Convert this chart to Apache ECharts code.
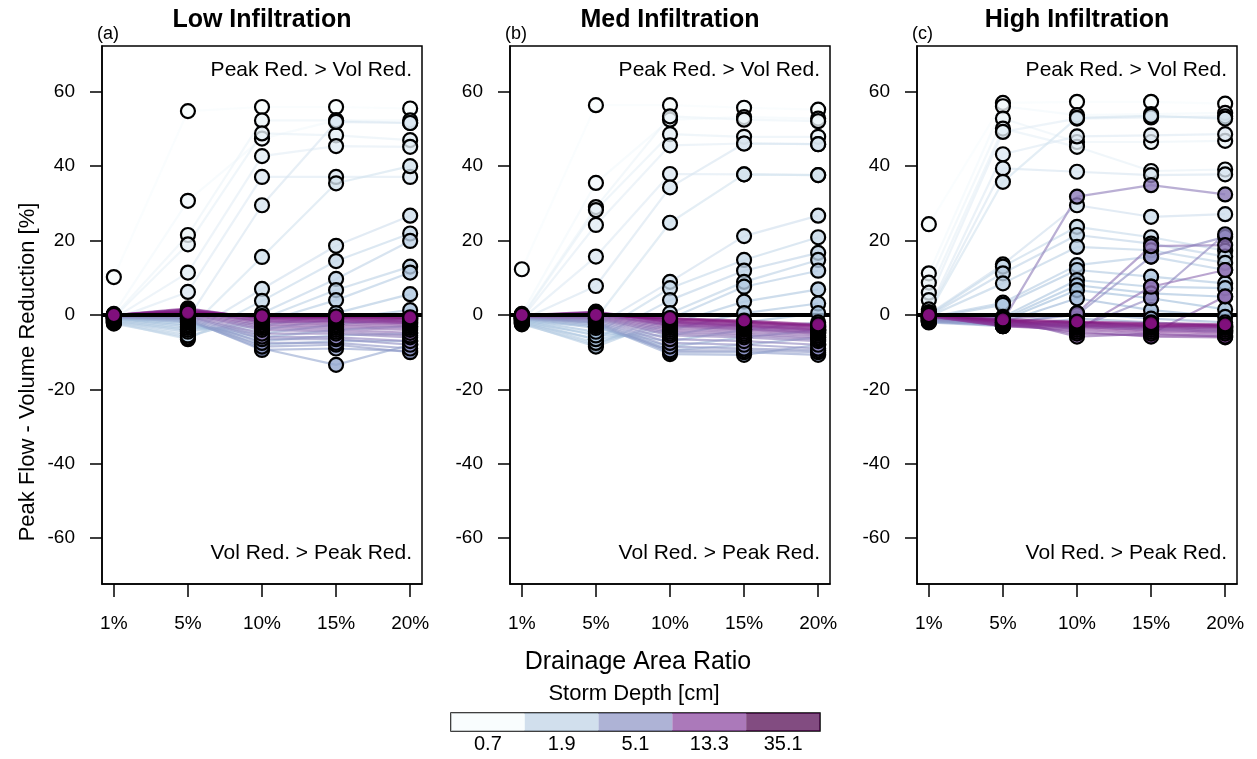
<!DOCTYPE html>
<html>
<head>
<meta charset="utf-8">
<script src="https://cdn.jsdelivr.net/npm/echarts@6/dist/echarts.min.js"></script>
<style>
  html, body { margin: 0; padding: 0; background: #fff; }
  #chart { width: 1257px; height: 759px; }
</style>
</head>
<body>
<div id="chart"></div>
<script>
// Drainage area ratios on the x axis
const ratioLabels = ['1%', '5%', '10%', '15%', '20%'];
const ratioPos = [1, 2, 3, 4, 5];

// Storm depth [cm] for each simulated storm (same storms in every panel)
const stormDepths = [
  0.7, 0.8, 0.9, 1.0, 1.1, 1.2, 1.3, 1.4, 1.5, 1.7,
  1.9, 2.0, 2.2, 2.4, 2.6, 2.8, 3.0, 3.3, 3.6, 4.0,
  4.4, 4.8, 5.1, 5.6, 6.2, 6.8, 7.5, 8.3, 9.1, 10.0,
  11.0, 12.0, 13.3, 14.5, 15.5, 16.5, 17.5, 19.0, 20.5, 22.0
];

// Peak flow reduction minus volume reduction [%], one row per storm, one column per ratio
const lowInf = [
  [10.2, 54.8, 55.9, 55.9, 55.5],
  [0.3, 30.7, 47.4, 52.3, 52.3],
  [-0.3, 21.5, 52.3, 52.3, 51.6],
  [-0.6, 19.0, 48.8, 48.3, 47.0],
  [-0.9, 11.4, 42.7, 45.4, 45.2],
  [-1.1, 6.2, 37.1, 37.1, 37.1],
  [-1.3, -1.0, 29.5, 51.9, 51.6],
  [-1.6, -4.0, 15.6, 35.4, 40.0],
  [-1.8, -5.0, 7.0, 18.6, 26.7],
  [-2.0, -6.5, 3.8, 14.5, 21.9],
  [-2.3, -6.0, 0.5, 9.7, 19.9],
  [-2.0, -5.5, -1.0, 6.7, 13.0],
  [-1.8, -4.5, -2.0, 4.0, 11.4],
  [-1.5, -4.0, -3.0, 0.5, 5.6],
  [-1.2, -3.5, -4.0, -1.0, 1.3],
  [-1.0, -3.0, -5.0, -2.5, -1.0],
  [-0.9, -2.5, -6.0, -4.0, -3.0],
  [-0.8, -2.0, -7.0, -5.5, -5.0],
  [-0.7, -1.8, -8.0, -7.0, -7.0],
  [-0.6, -1.5, -9.0, -13.4, -8.0],
  [-0.5, -1.2, -9.4, -9.0, -9.7],
  [-0.5, -1.0, -8.5, -8.0, -10.0],
  [-0.4, -0.8, -7.5, -7.5, -9.0],
  [-0.4, -0.5, -6.5, -6.5, -8.0],
  [-0.3, -0.3, -5.8, -6.0, -7.0],
  [-0.3, -0.2, -5.0, -5.0, -6.0],
  [-0.2, 0.0, -4.0, -4.5, -5.5],
  [-0.2, 0.2, -3.5, -4.0, -4.8],
  [-0.2, 0.4, -3.0, -3.5, -4.0],
  [-0.1, 0.6, -2.5, -3.0, -3.5],
  [-0.1, 0.8, -2.0, -2.5, -3.0],
  [0.0, 1.0, -1.8, -2.0, -2.5],
  [0.0, 1.2, -1.5, -1.8, -2.2],
  [0.0, 1.5, -1.2, -1.5, -2.0],
  [0.0, 1.8, -1.0, -1.2, -1.8],
  [0.0, 1.5, -0.8, -1.0, -1.5],
  [0.0, 1.2, -0.6, -0.8, -1.2],
  [0.0, 1.0, -0.5, -0.6, -1.0],
  [0.0, 0.8, -0.4, -0.5, -0.8],
  [0.0, 0.6, -0.3, -0.4, -0.6]
];

const medInf = [
  [12.3, 56.4, 56.4, 55.7, 55.2],
  [0.3, 35.5, 52.5, 53.2, 52.8],
  [-0.3, 29.0, 53.4, 52.5, 52.1],
  [-0.6, 28.2, 48.6, 47.9, 47.9],
  [-0.9, 24.2, 45.6, 46.1, 45.9],
  [-1.1, 15.7, 37.9, 37.8, 37.6],
  [-1.3, 7.8, 34.3, 46.1, 45.9],
  [-1.6, -1.0, 24.8, 37.8, 37.6],
  [-1.8, -3.0, 8.9, 21.2, 26.7],
  [-2.0, -5.0, 7.2, 14.8, 20.9],
  [-2.3, -6.5, 4.0, 11.9, 16.7],
  [-2.5, -8.0, 0.5, 8.9, 14.8],
  [-2.2, -8.5, -1.0, 7.6, 11.9],
  [-2.0, -7.5, -2.5, 3.6, 6.9],
  [-1.8, -6.5, -4.0, 0.5, 3.1],
  [-1.5, -5.5, -5.5, -2.0, 0.5],
  [-1.3, -4.5, -7.0, -4.0, -2.0],
  [-1.1, -3.5, -8.5, -6.0, -4.0],
  [-1.0, -3.0, -9.5, -8.0, -6.0],
  [-0.9, -2.5, -10.5, -10.7, -8.0],
  [-0.8, -2.2, -10.0, -10.0, -10.7],
  [-0.7, -2.0, -9.5, -9.5, -10.0],
  [-0.6, -1.8, -8.5, -9.0, -9.5],
  [-0.5, -1.5, -7.5, -8.0, -9.0],
  [-0.5, -1.2, -6.5, -7.0, -8.0],
  [-0.4, -1.0, -5.5, -6.0, -7.0],
  [-0.4, -0.8, -5.0, -5.5, -6.5],
  [-0.3, -0.6, -4.5, -5.0, -6.0],
  [-0.3, -0.4, -4.0, -4.5, -5.5],
  [-0.3, -0.2, -3.5, -4.0, -5.0],
  [-0.2, 0.0, -3.0, -3.8, -4.8],
  [-0.2, 0.2, -2.8, -3.5, -4.5],
  [-0.2, 0.4, -2.5, -3.2, -4.2],
  [-0.1, 0.6, -2.2, -3.0, -4.0],
  [-0.1, 0.9, -2.0, -2.8, -3.8],
  [-0.1, 0.7, -1.8, -2.5, -3.5],
  [0.0, 0.5, -1.5, -2.2, -3.2],
  [0.0, 0.3, -1.2, -2.0, -3.0],
  [0.0, 0.1, -1.0, -1.8, -2.8],
  [0.0, 0.0, -0.8, -1.5, -2.5]
];

const highInf = [
  [24.4, 57.0, 57.3, 57.3, 56.8],
  [11.2, 56.1, 53.7, 54.0, 54.3],
  [8.7, 52.8, 46.5, 46.5, 46.8],
  [6.0, 50.1, 45.2, 38.7, 39.1],
  [4.0, 49.2, 52.8, 53.1, 53.4],
  [1.5, 43.2, 48.0, 48.3, 48.6],
  [0.8, 39.4, 38.5, 37.6, 37.8],
  [0.5, 35.8, 53.0, 53.5, 52.8],
  [0.2, 13.6, 29.5, 26.4, 27.1],
  [0.0, 13.0, 23.7, 20.9, 17.3],
  [-0.2, 11.2, 21.5, 19.2, 15.7],
  [-0.4, 8.5, 18.3, 17.4, 14.0],
  [-0.6, 3.3, 13.4, 15.7, 12.1],
  [-0.8, 2.7, 12.1, 10.3, 8.5],
  [-1.0, -0.5, 9.4, 7.6, 7.2],
  [-1.2, -1.0, 8.0, 5.8, 4.9],
  [-1.4, -1.5, 6.7, 4.5, 1.5],
  [-1.6, -2.0, 4.5, 1.3, -0.5],
  [-1.8, -2.5, 0.5, -1.0, -2.0],
  [-2.0, -3.0, -1.0, -2.0, -3.0],
  [-1.8, -2.8, -2.0, -3.0, -3.5],
  [-1.6, -2.5, -2.5, -3.5, -4.0],
  [-1.4, -2.2, -3.0, -4.0, -4.5],
  [-1.2, -2.0, 0.0, 15.7, 21.0],
  [-1.0, -1.8, -3.5, 4.5, 21.7],
  [-0.9, -1.5, 31.8, 34.9, 32.4],
  [-0.8, -1.2, 0.5, 18.5, 18.8],
  [-0.7, -1.0, -4.0, 7.6, 12.1],
  [-0.6, -0.8, -5.8, -5.0, 5.0],
  [-0.5, -2.0, -5.0, -5.5, -5.5],
  [-0.4, -2.5, -4.5, -5.8, -6.0],
  [-0.4, -3.0, -4.0, -5.0, -5.8],
  [-0.3, -3.0, -3.5, -4.5, -5.0],
  [-0.3, -2.8, -3.2, -4.0, -4.5],
  [-0.2, -2.5, -3.0, -3.5, -4.0],
  [-0.2, -2.2, -2.8, -3.2, -3.5],
  [-0.1, -2.0, -2.5, -3.0, -3.2],
  [-0.1, -1.8, -2.2, -2.8, -3.0],
  [0.0, -1.5, -2.0, -2.5, -2.8],
  [0.0, -1.2, -1.8, -2.2, -2.5]
];

const panelData = [lowInf, medInf, highInf];
const panelTitles = ['Low Infiltration', 'Med Infiltration', 'High Infiltration'];
const panelTags = ['(a)', '(b)', '(c)'];
const yTicks = [-60, -40, -20, 0, 20, 40, 60];
const legendBreaks = [0.7, 1.9, 5.1, 13.3, 35.1];

// Blue-purple ramp, spread over log storm depth
const BUPU = ['#f7fcfd', '#e0ecf4', '#bfd3e6', '#9ebcda', '#8c96c6', '#8c6bb1', '#88419d', '#810f7c', '#4d004b'];
const hexToRgb = h => [1, 3, 5].map(i => parseInt(h.slice(i, i + 2), 16));
function depthColor(d, alpha) {
  const lo = Math.log(legendBreaks[0]);
  const hi = Math.log(legendBreaks[legendBreaks.length - 1]);
  let t = (Math.log(d) - lo) / (hi - lo) * (BUPU.length - 1);
  t = Math.max(0, Math.min(BUPU.length - 1, t));
  const i = Math.min(Math.floor(t), BUPU.length - 2);
  const f = t - i;
  const a = hexToRgb(BUPU[i]), b = hexToRgb(BUPU[i + 1]);
  const c = a.map((v, k) => Math.round(v + (b[k] - v) * f));
  return `rgba(${c[0]},${c[1]},${c[2]},${alpha})`;
}

const FONT = '"Liberation Sans", Arial, Helvetica, sans-serif';
const X_MIN = 0.84, X_MAX = 5.16;
const Y_MIN = -72.3, Y_MAX = 72.3;
const PANEL_LEFT = [102, 510, 917];
const PANEL_TOP = 46, PANEL_W = 320, PANEL_H = 538;
const AXIS_LINE = { show: true, onZero: false, lineStyle: { color: '#000', width: 1.5 } };

const grids = [], xAxes = [], yAxes = [], series = [], graphics = [];

PANEL_LEFT.forEach((left, p) => {
  grids.push({ left, top: PANEL_TOP, width: PANEL_W, height: PANEL_H,
    show: true, borderColor: '#000', borderWidth: 1.5, backgroundColor: '#fff' });
  xAxes.push({
    type: 'value', gridIndex: p, min: X_MIN, max: X_MAX, position: 'bottom',
    axisLine: AXIS_LINE, splitLine: { show: false },
    axisTick: { show: true, customValues: ratioPos, length: 13, lineStyle: { color: '#000', width: 1.5 } },
    axisLabel: { customValues: ratioPos, margin: 30, fontSize: 19, color: '#000', fontFamily: FONT,
      formatter: v => ratioLabels[ratioPos.indexOf(Math.round(v))] }
  });
  yAxes.push({
    type: 'value', gridIndex: p, min: Y_MIN, max: Y_MAX, position: 'left',
    axisLine: AXIS_LINE, splitLine: { show: false },
    axisTick: { show: true, customValues: yTicks, length: 12, lineStyle: { color: '#000', width: 1.5 } },
    axisLabel: { customValues: yTicks, margin: 27, fontSize: 19, color: '#000', fontFamily: FONT }
  });

  const rows = panelData[p];
  // one line per storm
  rows.forEach((vals, s) => {
    series.push({
      type: 'line', xAxisIndex: p, yAxisIndex: p, silent: true,
      data: ratioPos.map((x, j) => [x, vals[j]]),
      symbol: 'none', z: 2,
      lineStyle: { color: depthColor(stormDepths[s], 0.6), width: 2.2 }
    });
  });
  // zero reference line
  series.push({
    type: 'line', xAxisIndex: p, yAxisIndex: p, silent: true, symbol: 'none', z: 3,
    data: [[X_MIN, 0], [X_MAX, 0]],
    lineStyle: { color: '#000', width: 4 }
  });
  // storm points, larger storms drawn last
  const pts = [];
  rows.forEach((vals, s) => vals.forEach((v, j) => pts.push([ratioPos[j], v, stormDepths[s]])));
  series.push({
    type: 'scatter', xAxisIndex: p, yAxisIndex: p, silent: true, z: 4,
    data: pts, symbolSize: 14,
    itemStyle: { color: prm => depthColor(prm.data[2], 0.8), borderColor: '#000', borderWidth: 2.2, opacity: 1 }
  });

  graphics.push(
    { type: 'text', x: left + PANEL_W / 2, y: 20,
      style: { text: panelTitles[p], fill: '#000', fontSize: 25, fontWeight: 'bold', fontFamily: FONT, align: 'center', verticalAlign: 'middle' } },
    { type: 'text', x: left - 5, y: 34,
      style: { text: panelTags[p], fill: '#000', fontSize: 18, fontFamily: FONT, align: 'left', verticalAlign: 'middle' } },
    { type: 'text', x: left + PANEL_W - 10, y: 70,
      style: { text: 'Peak Red. > Vol Red.', fill: '#000', fontSize: 21, fontFamily: FONT, align: 'right', verticalAlign: 'middle' } },
    { type: 'text', x: left + PANEL_W - 10, y: 553,
      style: { text: 'Vol Red. > Peak Red.', fill: '#000', fontSize: 21, fontFamily: FONT, align: 'right', verticalAlign: 'middle' } }
  );
});

// storm depth colour key
const keyIdx = 3;
grids.push({ left: 451, top: 713, width: 369, height: 18, show: true, borderColor: '#000', borderWidth: 1.5 });
xAxes.push({
  type: 'category', gridIndex: keyIdx, data: legendBreaks.map(String),
  axisLine: { show: false }, axisTick: { show: false },
  axisLabel: { margin: 3, fontSize: 20, color: '#000', fontFamily: FONT }
});
yAxes.push({ type: 'value', gridIndex: keyIdx, min: 0, max: 1, show: false });
series.push({
  type: 'bar', xAxisIndex: keyIdx, yAxisIndex: keyIdx, silent: true,
  barWidth: '100%', barCategoryGap: '0%',
  data: legendBreaks.map(d => ({ value: 1, itemStyle: { color: depthColor(d, 0.7) } }))
});

graphics.push(
  { type: 'text', x: 28, y: 372, rotation: Math.PI / 2,
    style: { text: 'Peak Flow - Volume Reduction [%]', fill: '#000', fontSize: 22, fontFamily: FONT, align: 'center', verticalAlign: 'middle' } },
  { type: 'text', x: 638, y: 662,
    style: { text: 'Drainage Area Ratio', fill: '#000', fontSize: 25, fontFamily: FONT, align: 'center', verticalAlign: 'middle' } },
  { type: 'text', x: 634, y: 694,
    style: { text: 'Storm Depth [cm]', fill: '#000', fontSize: 22, fontFamily: FONT, align: 'center', verticalAlign: 'middle' } }
);

const chart = echarts.init(document.getElementById('chart'), null, { renderer: 'canvas' });
chart.setOption({
  animation: false,
  backgroundColor: '#fff',
  grid: grids, xAxis: xAxes, yAxis: yAxes,
  series, graphic: graphics
});
</script>
</body>
</html>
